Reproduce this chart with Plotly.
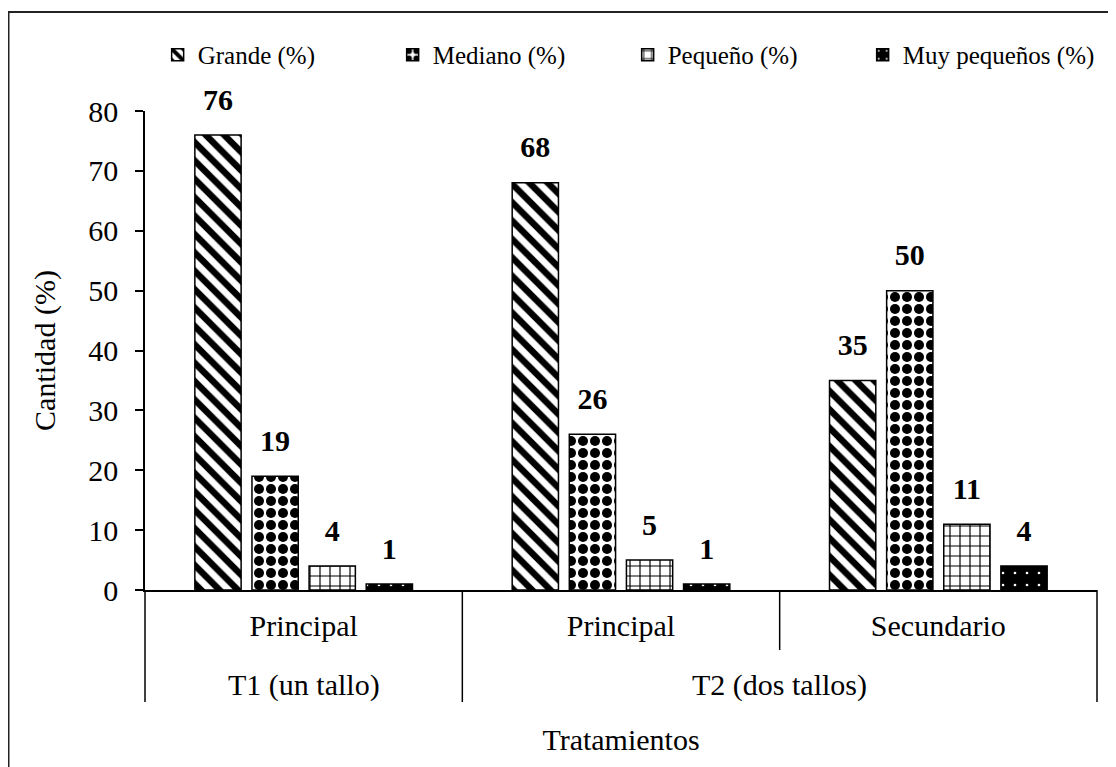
import plotly.graph_objects as go

# Datos de la figura
grupos = ["T1 (un tallo)", "T2 (dos tallos)", "T2 (dos tallos)"]
tallos = ["Principal", "Principal", "Secundario"]
series = ["Grande (%)", "Mediano (%)", "Pequeño (%)", "Muy pequeños (%)"]
grande = [76, 68, 35]
mediano = [19, 26, 50]
pequeno = [4, 5, 11]
muy_pequeno = [1, 1, 4]
y_ticks = [0, 10, 20, 30, 40, 50, 60, 70, 80]

valores = [grande, mediano, pequeno, muy_pequeno]

# Patrones en blanco y negro para cada serie
patrones = [
    dict(shape="\\", size=13, solidity=0.5, fgcolor="black", bgcolor="white", fgopacity=1),
    dict(shape=".", size=12, solidity=0.55, fgcolor="black", bgcolor="white", fgopacity=1),
    dict(shape="+", size=10, solidity=0.22, fgcolor="black", bgcolor="white", fgopacity=1),
    dict(shape=".", size=12, solidity=0.04, fgcolor="white", bgcolor="black", fgopacity=1),
]

FONT = "Liberation Serif"
# categorias unicas para el eje (grupo|tallo), rotuladas con el nombre del tallo
x = [f"{g}|{t}" for g, t in zip(grupos, tallos)]

fig = go.Figure()

for i, (nombre, vals, pat) in enumerate(zip(series, valores, patrones)):
    fig.add_trace(go.Bar(
        x=x,
        y=vals,
        name=nombre,
        offsetgroup=str(i),
        marker=dict(color="white", pattern=pat, line=dict(color="black", width=1.5)),
        hoverinfo="y+name",
    ))

# Etiquetas de valores por encima de las barras
for i, vals in enumerate(valores):
    fig.add_trace(go.Scatter(
        x=x,
        y=vals,
        mode="markers+text",
        offsetgroup=str(i),
        text=[str(v) for v in vals],
        textposition="top center",
        textfont=dict(family=FONT, size=30, color="black", weight="bold"),
        marker=dict(size=27, opacity=0),
        showlegend=False,
        hoverinfo="skip",
        cliponaxis=False,
    ))

fig.update_layout(
    width=1116,
    height=767,
    barmode="group",
    bargap=0.28,
    bargroupgap=0.19,
    scattermode="group",
    scattergap=0.28,
    plot_bgcolor="white",
    paper_bgcolor="white",
    font=dict(family=FONT, size=30, color="black"),
    margin=dict(l=137, r=27, t=103, b=185),
    legend=dict(
        orientation="h",
        x=0.507, xanchor="center",
        y=1.117, yanchor="middle",
        font=dict(size=25),
        itemwidth=30,
        entrywidth=190,
        traceorder="normal",
    ),
    showlegend=True,
)

fig.update_yaxes(
    range=[0, 80],
    tickvals=y_ticks,
    ticks="outside",
    ticklen=8,
    tickwidth=1.5,
    tickcolor="black",
    showline=True,
    linecolor="black",
    linewidth=1.5,
    showgrid=False,
    zeroline=False,
    ticklabelstandoff=11,
    title=dict(text="Cantidad (%)", standoff=24, font=dict(size=30)),
)

fig.update_xaxes(
    type="category",
    tickvals=x,
    ticktext=tallos,
    ticks="",
    ticklabelstandoff=8,
    showline=True,
    linecolor="black",
    linewidth=1.5,
    showgrid=False,
    title=dict(text="Tratamientos", standoff=88, font=dict(size=30)),
)

# Lineas divisorias y rotulos de los grupos bajo el eje
n = len(tallos)
alto = 479.0
for k in range(n + 1):
    borde_grupo = k == 0 or k == n or grupos[k - 1] != grupos[k]
    largo = 112 if borde_grupo else 60
    fig.add_shape(
        type="line", xref="paper", yref="paper",
        x0=k / n, x1=k / n, y0=0, y1=-largo / alto,
        line=dict(color="black", width=1.5),
    )

inicio = 0
for k in range(1, n + 1):
    if k == n or grupos[k] != grupos[inicio]:
        fig.add_annotation(
            text=grupos[inicio], xref="paper", yref="paper",
            x=(inicio + k) / 2 / n, y=-95 / alto,
            showarrow=False, xanchor="center", yanchor="middle",
            font=dict(family=FONT, size=30, color="black"),
        )
        inicio = k

# Marco exterior del gráfico
fig.add_shape(
    type="rect", xref="paper", yref="paper",
    x0=(8.5 - 145) / 952, x1=(1130 - 145) / 952,
    y0=(590 - 790) / alto, y1=(590 - 12) / alto,
    line=dict(color="#222", width=2), fillcolor="rgba(0,0,0,0)", layer="below",
)

fig.write_html("out.html")
